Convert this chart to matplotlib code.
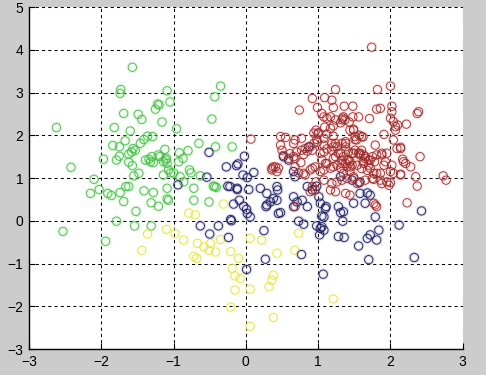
import matplotlib
matplotlib.use('Agg')
import matplotlib.pyplot as plt

# points, one cluster per colour
green_x = [-1.57, -1.73, -1.74, -1.09, -1.05, -1.69, -1.49, -1.44, -1.25, -1.20,
           -1.16, -2.62, -1.82, -1.60, -1.29, -1.36, -1.84, -1.67, -1.75, -1.56,
           -1.58, -1.53, -1.46, -1.41, -1.62, -1.75, -1.79, -1.97, -1.62, -1.57,
           -2.42, -1.39, -1.32, -1.28, -1.34, -1.30, -1.19, -1.12, -1.11, -1.09,
           -1.48, -1.55, -1.14, -2.10, -2.03, -2.15, -1.91, -1.86, -1.74, -1.66,
           -1.62, -1.69, -1.41, -1.28, -1.31, -1.21, -1.09, -1.52, -1.79, -1.54,
           -1.31, -2.53, -1.94, -1.22, -0.96, -0.47, -0.65, -0.42, -0.19, -0.92,
           -0.80, -0.87, -1.21, -1.14, -1.10, -0.93, -1.07, -1.00, -1.04, -0.78,
           -0.76, -0.91, -0.86, -0.63, -0.45, -0.41, -0.43, -0.72, -1.09, -1.07,
           -0.72, -0.51, -0.35, -0.43]
green_y = [3.59, 3.07, 2.98, 3.04, 2.78, 2.51, 2.49, 2.37, 2.61, 2.71,
           2.31, 2.18, 2.18, 2.10, 1.97, 1.98, 1.76, 1.87, 1.73, 1.69,
           1.61, 1.65, 1.81, 1.90, 1.56, 1.51, 1.42, 1.44, 1.37, 1.29,
           1.25, 1.42, 1.38, 1.36, 1.44, 1.50, 1.50, 1.67, 1.42, 1.34,
           1.11, 1.05, 1.07, 0.97, 0.73, 0.64, 0.64, 0.59, 0.66, 0.80,
           0.80, 0.45, 0.70, 0.66, 0.42, 0.34, 0.51, 0.22, -0.01, -0.12,
           -0.12, -0.25, -0.48, 2.73, 2.15, 2.38, 1.81, 1.73, 1.73, 1.59,
           1.64, 1.46, 1.54, 1.38, 1.46, 1.38, 1.19, 1.12, 1.12, 1.19,
           1.12, 1.03, 0.91, 1.05, 0.81, 0.78, 0.80, 0.76, 0.76, 0.48,
           0.48, 0.44, 3.15, 2.90]

yellow_x = [-1.44, -1.36, -1.10, -0.79, -0.70, -0.31, -0.86, -0.67, -0.58, -0.51,
            -0.42, -0.49, -0.35, -0.72, -0.68, -0.21, -0.10, -0.19, -0.08, -0.15,
            -0.15, 0.06, 0.32, 0.36, 0.38, -0.21, 0.06, 0.38, 0.43, 0.06,
            0.22, 0.68, 0.73, 1.21, -0.98]
yellow_y = [-0.69, -0.31, -0.20, 0.18, 0.14, 0.39, -0.45, -0.53, -0.61, -0.69,
            -0.73, -0.53, -0.44, -0.83, -0.88, -0.72, -0.88, -1.11, -1.35, -1.29,
            -1.62, -1.60, -1.54, -1.39, -1.27, -2.02, -2.47, -2.26, -0.76, -0.41,
            -0.45, -0.69, -0.29, -1.83, -0.30]

blue_x = [-0.51, -0.02, -0.27, -0.13, -0.11, -0.04, 0.02, 0.11, -0.54, -0.94,
          -0.25, -0.22, -0.12, 0.04, 0.20, -0.09, -0.17, -0.03, 0.01, 0.02,
          0.06, -0.21, -0.63, -0.38, -0.50, -0.24, -0.20, 0.25, 0.27, 0.01,
          0.29, 0.34, 0.29, 0.45, 0.43, 0.44, 0.66, 0.68, 0.43, 0.66,
          0.71, 0.78, 0.48, 0.85, 1.01, 1.03, 1.10, 1.05, 0.73, 0.80,
          0.98, 1.03, 1.02, 0.77, 1.28, 1.36, 1.31, 1.28, 1.34, 1.49,
          1.58, 1.68, 1.72, 1.65, 1.56, 1.68, 1.72, 1.81, 1.84, 1.79,
          1.70, 2.12, 2.43, 2.33, 1.07, 1.35, 1.08, 1.11, 1.05, 1.08,
          0.87, 0.52, 0.59, 1.31, 1.47, 1.57, 0.38, 0.28, 0.66, 0.85,
          0.92, 0.98, -0.12]
blue_y = [1.60, 1.51, 1.26, 1.29, 1.33, 1.07, 1.01, 1.13, 1.02, 0.84,
          0.81, 0.80, 0.73, 0.73, 0.76, 0.48, 0.39, 0.34, 0.27, 0.17,
          0.09, 0.03, -0.12, -0.12, -0.31, -0.39, 0.00, -0.23, -0.90, -1.14,
          0.37, 0.44, 0.64, 0.17, 0.80, 0.72, 1.15, 1.03, 0.48, 0.56,
          0.44, 0.48, 0.19, 0.33, 0.56, 0.41, 0.29, 0.11, -0.01, -0.08,
          -0.12, -0.18, -0.33, -0.79, -0.37, -0.39, 0.19, 0.33, -0.01, 0.41,
          0.64, 0.65, 0.60, 0.41, -0.59, -0.41, -0.33, -0.45, -0.22, 0.09,
          -0.91, -0.10, 0.23, -0.86, -1.25, 0.21, 0.09, 0.33, -0.14, -0.22,
          1.73, 1.50, 1.42, 1.03, 0.95, 0.89, 0.52, 0.33, 0.33, 0.80,
          0.72, 0.81, 0.76]

red_x = [1.74, 1.24, 1.82, 2.00, 0.92, 1.09, 1.19, 0.99, 1.21, 1.36,
         1.48, 1.81, 1.86, 2.02, 2.37, 2.39, 0.74, 1.05, 1.12, 1.35,
         1.33, 1.56, 1.71, 2.00, 2.04, 2.10, 2.22, 2.07, 1.17, 1.21,
         1.49, 1.57, 1.62, 1.91, 2.04, 1.21, 1.26, 1.24, 1.12, 1.38,
         1.51, 1.79, 2.14, 2.17, 2.21, 2.28, 2.41, 2.14, 2.35, 2.37,
         2.73, 2.77, 1.95, 2.00, 1.77, 1.31, 1.35, 1.40, 1.21, 1.49,
         1.58, 1.65, 1.70, 1.75, 1.63, 1.54, 1.45, 1.31, 1.21, 1.12,
         1.08, 1.72, 1.81, 1.88, 1.93, 2.02, 1.86, 2.04, 2.02, 2.07,
         1.49, 2.14, 2.18, 1.91, 1.88, 2.00, 2.14, 1.88, 1.75, 1.49,
         1.58, 1.65, 1.62, 1.70, 1.78, 1.60, 1.68, 1.08, 1.17, 1.24,
         1.34, 1.37, 1.48, 1.44, 0.97, 1.00, 1.09, 1.31, 1.43, 0.48,
         0.55, 0.68, 0.77, 0.98, 1.00, 1.19, 1.38, 1.51, 1.53, 1.60,
         0.50, 0.70, 0.77, 0.82, 1.08, 1.19, 1.24, 1.28, 1.38, 1.42,
         1.51, 1.56, 1.60, 0.59, 0.68, 1.05, 1.10, 1.33, 1.38, 1.42,
         1.47, 0.38, 0.45, 0.92, 0.96, 1.17, 0.07, 0.61, 0.66, 0.36,
         0.41, 0.43, 0.68, 0.73, 0.82, 0.89, 0.76, 0.80, 0.85, 0.92,
         1.03, 0.97, 1.08, 0.94, 0.99, 1.08, 1.12, 0.48, 0.52, 0.66,
         0.89, 0.94, 1.08, 1.21, 1.33, 1.47, 1.63, 1.72, 1.81, 1.95,
         2.09, 0.36, 0.80, 1.03, 0.92, 0.96, 0.89, 1.19, 1.26, 1.33,
         1.40, 1.35, 1.44, 1.49, 1.54, 1.58, 1.65, 1.26, 1.33, 1.40,
         1.44, 1.17, 1.24, 1.38, 1.44, 1.77, 1.81, 1.98, 1.77, 1.86,
         0.68, 2.23, 1.79]
red_y = [4.06, 3.07, 3.07, 3.15, 2.86, 2.88, 2.82, 2.65, 2.65, 2.68,
         2.68, 2.61, 2.63, 2.68, 2.51, 2.55, 2.59, 2.51, 2.40, 2.43,
         2.36, 2.43, 2.39, 2.40, 2.32, 2.24, 2.26, 2.20, 2.16, 2.22,
         2.12, 2.00, 1.96, 2.02, 1.89, 1.98, 1.73, 1.81, 1.68, 1.81,
         1.90, 1.77, 1.72, 1.44, 1.34, 1.26, 1.50, 1.09, 1.03, 0.81,
         1.05, 0.95, 0.91, 0.89, 0.97, 1.58, 1.50, 1.42, 1.46, 1.58,
         1.54, 1.50, 1.42, 1.50, 1.34, 1.30, 1.26, 1.23, 1.26, 1.34,
         1.19, 1.23, 1.11, 1.58, 1.38, 1.30, 0.95, 1.11, 2.55, 2.12,
         2.14, 1.69, 1.38, 1.30, 1.54, 1.15, 1.07, 0.87, 0.99, 0.99,
         1.58, 1.46, 1.38, 1.30, 1.38, 1.22, 1.18, 2.43, 2.43, 2.36,
         2.40, 2.36, 2.43, 2.12, 2.12, 2.06, 2.19, 2.29, 2.31, 1.97,
         1.95, 1.89, 1.93, 1.90, 2.03, 1.81, 1.85, 1.97, 1.89, 1.97,
         1.65, 1.61, 1.65, 1.69, 1.61, 1.65, 1.50, 1.58, 1.73, 1.61,
         1.65, 1.58, 1.65, 1.46, 1.46, 1.42, 1.34, 1.42, 1.34, 1.42,
         1.30, 1.26, 1.23, 1.23, 1.26, 1.23, 1.91, 1.57, 1.50, 1.23,
         1.26, 1.15, 1.26, 1.12, 1.07, 1.19, 1.36, 1.55, 1.63, 1.65,
         1.58, 0.91, 0.95, 2.05, 1.84, 1.93, 2.03, 1.77, 1.53, 1.81,
         1.73, 1.81, 1.77, 1.73, 1.81, 1.58, 1.54, 1.42, 1.54, 1.58,
         1.69, 1.19, 1.11, 1.15, 0.80, 0.72, 0.68, 0.87, 0.91, 0.95,
         0.99, 1.11, 1.15, 1.03, 0.87, 0.91, 0.95, 1.30, 1.34, 1.26,
         1.38, 0.72, 0.68, 0.64, 0.60, 0.41, 0.33, 0.83, 1.11, 1.11,
         0.33, 0.42, 0.37]

clusters = [
    (green_x, green_y, '#4cb84c', '#8cf08c'),
    (yellow_x, yellow_y, '#e0e050', '#ffff90'),
    (blue_x, blue_y, '#1a1a55', '#8080c8'),
    (red_x, red_y, '#9a2a2a', '#ffb0b0'),
]

plt.rcParams['font.family'] = ['Liberation Sans', 'DejaVu Sans']

fig = plt.figure(figsize=(4.86, 3.75), dpi=100, facecolor='#cccccc')
ax = fig.add_axes([0.0597, 0.0693, 0.8924, 0.912])
ax.set_facecolor('white')

for xs, ys, edge, glow in clusters:
    # soft halo first, then the thin ring on top
    ax.scatter(xs, ys, s=36, facecolors='none', edgecolors=glow,
               linewidths=2.2, alpha=0.3, zorder=2)
    ax.scatter(xs, ys, s=36, facecolors='none', edgecolors=edge,
               linewidths=0.6, zorder=3)

ax.set_xlim(-3, 3)
ax.set_ylim(-3, 5)
ax.set_xticks(range(-3, 4))
ax.set_yticks(range(-3, 6))
ax.grid(True, color='black', linestyle=(0, (3, 3)), linewidth=0.75)
ax.set_axisbelow(True)

for side in ['top', 'right']:
    ax.spines[side].set_visible(False)
for side in ['left', 'bottom']:
    ax.spines[side].set_linewidth(1.0)
ax.tick_params(direction='in', length=4, labelsize=10, pad=4)

fig.savefig('out.png', dpi=100, facecolor=fig.get_facecolor())
